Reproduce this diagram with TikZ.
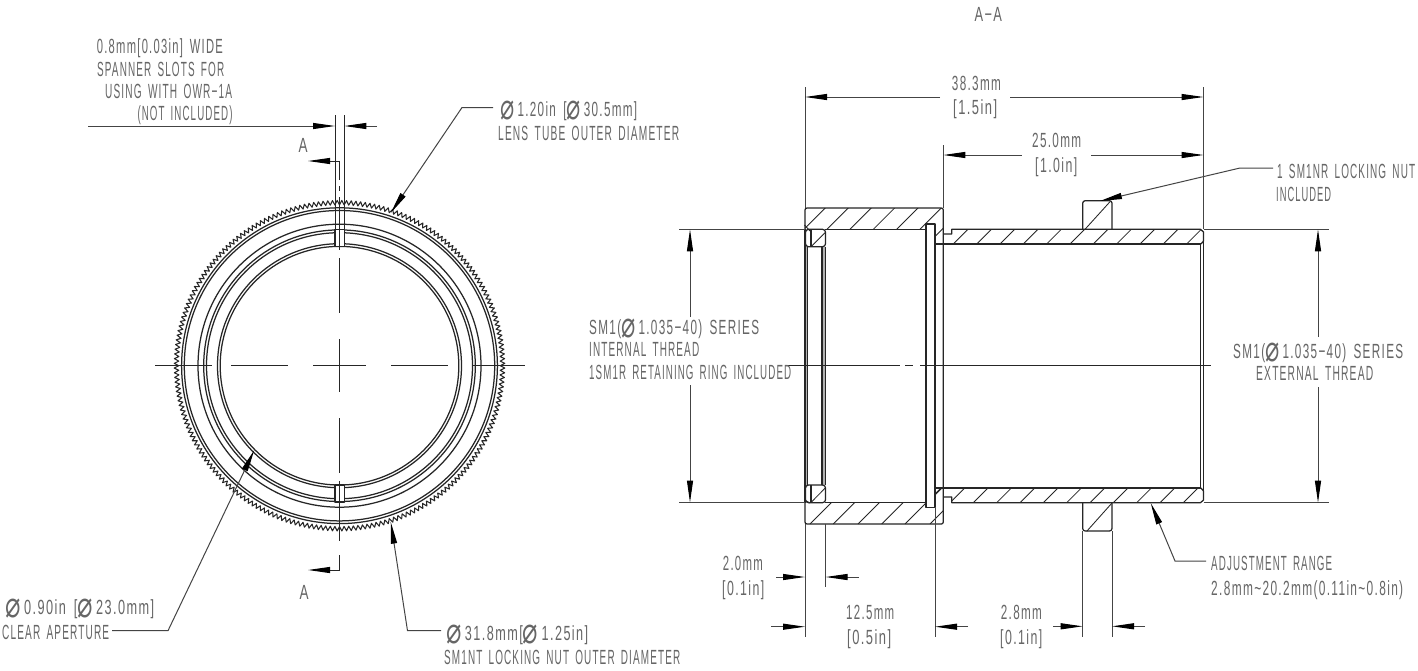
\documentclass[tikz,border=0pt]{standalone}
\usepackage{fontspec}
\usepackage{graphicx}
\setmainfont[FakeStretch=0.62,LetterSpace=7,WordSpace=1.6]{Liberation Sans}
\newfontfamily\djv{DejaVu Sans}
\usetikzlibrary{arrows.meta}
\newcommand\tx[2]{\resizebox{#1pt}{\height}{#2}}
\newcommand\dia{\smash{\raisebox{-3.5pt}{\scalebox{1.35}[1.9]{\djv\fontsize{19}{19}\selectfont ⌀}}}\,}
\definecolor{ink}{HTML}{262626}
\definecolor{dimc}{HTML}{444444}
\definecolor{txtc}{HTML}{666666}
\tikzset{
  obj/.style={draw=ink,line width=1.25pt,line join=round},
  hair/.style={draw=ink,line width=.95pt},
  hatchl/.style={draw=ink,line width=.85pt},
  dimline/.style={draw=dimc,line width=1pt},
  tip/.style={-{Triangle[length=22pt,width=6pt,fill=black,color=black]}},
  lbl/.style={anchor=base west,inner sep=0pt,text=txtc,font=\fontsize{20.5}{20.5}\selectfont},
  lblc/.style={anchor=base,inner sep=0pt,text=txtc,font=\fontsize{20.5}{20.5}\selectfont},
}
\begin{document}
\begin{tikzpicture}[x=1pt,y=-1pt]
\useasboundingbox[fill=white] (0,0) rectangle (1418,670);
% ===== front view =====
\coordinate (C) at (339.5,365.7);
\begin{scope}[shift={(C)}]
  \draw[obj,line width=1.05pt] (0:160.8pt) \foreach \i in {0,...,219} { -- ({(\i+.5)*1.6363636}:165.3pt) -- ({(\i+1)*1.6363636}:160.8pt) } -- cycle;
  \foreach \r in {157.9,155.2,141.5,135.8,133,122,119.3}
    \draw[obj] (0,0) circle[radius=\r pt];
\end{scope}
% slots
\draw[obj,fill=white] (335,229.5) rectangle (344.3,246.5);
\draw[obj,fill=white] (335,485) rectangle (344.3,502);
% slot extension lines
\coordinate (ext1) at (335,115); \coordinate (ext2) at (344.3,115);
\coordinate (ext1b) at (335,229.5); \coordinate (ext2b) at (344.3,229.5);
\draw[hair] (ext1) -- (ext1b) (ext2) -- (ext2b);
% centre lines
\foreach \a/\b in {155/212,231/288,313/366,391/448,473/525}
  \draw[hair] (\a,365.7) -- (\b,365.7);
\foreach \a/\b in {161/180,186/191,197/250,258/313,339/392,418/473,481/541,555/570}
  \draw[hair] (339.5,\a) -- (339.5,\b);
% section marks
\coordinate (ctop) at (339.5,161); \coordinate (cbot) at (339.5,570);
\coordinate (atop) at (308,161); \coordinate (abot) at (308,570);
\draw[hair,tip] (ctop) -- (atop);
\draw[hair,tip] (cbot) -- (abot);
\node[lblc] (lA1) at (303,152.5) {\tx{9}{A}};
\node[lblc] (lA2) at (304,599.5) {\tx{9}{A}};
% slot width dimension
\coordinate (w0) at (88,126); \coordinate (w1) at (335,126); \coordinate (w2) at (344.3,126); \coordinate (w3) at (377,126);
\draw[dimline,tip] (w0) -- (w1);
\draw[dimline,tip] (w3) -- (w2);
\node[lbl] (t1) at (96.7,53) {\tx{126}{0.8mm[0.03in] WIDE}};
\node[lbl] (t2) at (97,76) {\tx{127}{SPANNER SLOTS FOR}};
\node[lbl] (t3) at (105,98) {\tx{127}{USING WITH OWR−1A}};
\node[lbl] (t4) at (137.3,120) {\tx{95}{(NOT INCLUDED)}};
% lens tube leader
\coordinate (l1a) at (493,107.5); \coordinate (l1b) at (462,107.5); \coordinate (l1c) at (390.7,213);
\draw[dimline,tip] (l1a) -- (l1b) -- (l1c);
\node[lbl] (t5) at (500,116) {\tx{137}{\dia 1.20in [\dia 30.5mm]}};
\node[lbl] (t6) at (498,140) {\tx{181}{LENS TUBE OUTER DIAMETER}};
% clear aperture leader
\coordinate (l2a) at (112,630.7); \coordinate (l2b) at (168,630.7); \coordinate (l2c) at (254.3,450);
\draw[dimline,tip] (l2a) -- (l2b) -- (l2c);
\node[lbl] (t7) at (5,614) {\tx{149}{\dia 0.90in [\dia 23.0mm]}};
\node[lbl] (t8) at (2,639.5) {\tx{107}{CLEAR APERTURE}};
% locking nut leader
\coordinate (l3a) at (441,630.7); \coordinate (l3b) at (407.5,630.7); \coordinate (l3c) at (390.7,521.7);
\draw[dimline,tip] (l3a) -- (l3b) -- (l3c);
\node[lbl] (t9) at (446,640) {\tx{142}{\dia 31.8mm[\dia 1.25in]}};
\node[lbl] (t10) at (444,664.5) {\tx{236}{SM1NT LOCKING NUT OUTER DIAMETER}};
% ===== section view =====
\node[lbl] (t11) at (974.3,21) {\tx{27.5}{A−A}};
% hatching, top body
\begin{scope}
  \clip (805,208) -- (943.3,208) -- (943.3,244) -- (935,244) -- (935,224) -- (926,224) -- (926,229.3) -- (805,229.3) -- cycle;
  \foreach \x in {804,827,850,873.3,896.7,920,943.3} \draw[hatchl] (\x,229.3) -- ++(40,-40);
  \draw[hatchl] (935,236.5) -- ++(10,-10);
\end{scope}
% hatching, bottom body
\begin{scope}
  \clip (805,502.7) -- (926,502.7) -- (926,507.5) -- (935,507.5) -- (935,488) -- (943.3,488) -- (943.3,524) -- (805,524) -- cycle;
  \foreach \x in {810,833.3,858,881.7,905,930} \draw[hatchl] (\x,524) -- ++(40,-40);
  \draw[hatchl] (935,495) -- ++(10,-10);
\end{scope}
% hatching, tube
\begin{scope}
  \clip (944,244) -- (944,234) -- (951.7,234) -- (951.7,229.3) -- (1200.5,229.3) -- (1203.5,232) -- (1203.5,241) -- (1201,244) -- cycle;
  \foreach \k in {0,...,10} \draw[hatchl] ({953.3+23.33*\k},244) -- ++(16,-16);
\end{scope}
\begin{scope}
  \clip (951.7,502.7) -- (951.7,497) -- (944,497) -- (944,488) -- (1201,488) -- (1203.5,491) -- (1203.5,500) -- (1200.5,502.7) -- cycle;
  \foreach \k in {0,...,10} \draw[hatchl] ({950+23.33*\k},502.7) -- ++(16,-16);
\end{scope}
% gray thread bands
\fill[black!30] (805,246.7) rectangle (808,485);
\fill[black!30] (822,246.7) rectangle (825.5,485);
% body outline
\draw[obj,rounded corners=2pt] (805,229.3) -- (805,208) -- (943.3,208) -- (943.3,524) -- (805,524) -- (805,502.7);
\draw[obj] (926,229.3) -- (926,224) -- (935,224) -- (935,507.5) -- (926,507.5) -- (926,229.3);
\draw[obj] (825,229.3) -- (926,229.3) (825,502.7) -- (926,502.7);
\draw[obj] (805,229.3) -- (805,502.7);
\foreach \x in {807.7,822,825.5} \draw[obj] (\x,246.7) -- (\x,485);
% retaining ring sections
\draw[obj,fill=white,rounded corners=3pt] (805.5,229.3) rectangle (825.5,246.7);
\draw[obj,fill=white,rounded corners=3pt] (805.5,485) rectangle (825.5,502.7);
\draw[obj] (811,229.3) -- (811,246.7) (811,485) -- (811,502.7);
\draw[hatchl] (811.7,246) -- (825,232.7) (811.7,501.7) -- (825,488.3);
\draw[hatchl] (804.5,225) -- (810,231) (804.5,500) -- (810,503);
% tube
\draw[obj] (935,244) -- (1201,244) (935,488) -- (1201,488);
\draw[obj] (943.3,234) -- (951.7,234) -- (951.7,229.3) -- (1200.5,229.3) -- (1203.5,232) -- (1203.5,241) -- (1201,244);
\draw[obj] (943.3,497) -- (951.7,497) -- (951.7,502.7) -- (1200.5,502.7) -- (1203.5,500) -- (1203.5,491) -- (1201,488);
\draw[obj] (1200.5,244) -- (1200.5,488);
\draw[obj] (1203.5,241) -- (1203.5,491);
% nut
\draw[obj,rounded corners=2.5pt] (1082.7,229.3) -- (1082.7,200.7) -- (1112,200.7) -- (1112,229.3);
\draw[obj,rounded corners=2.5pt] (1082.7,502.7) -- (1082.7,531) -- (1112,531) -- (1112,502.7);
\draw[hatchl] (1085,229.3) -- (1110,201.7) (1086.7,531.3) -- (1111.7,503.3);
% centre line
\foreach \a/\b in {787/900,905/913,920/1211} \draw[hair] (\a,365.7) -- (\b,365.7);
% extension lines
\coordinate (eL) at (805,87); \coordinate (eLb) at (805,208);
\coordinate (eR) at (1203.5,87); \coordinate (eRb) at (1203.5,229.3);
\coordinate (eM) at (943.3,145); \coordinate (eMb) at (943.3,208);
\draw[dimline] (eL) -- (eLb) (eR) -- (eRb) (eM) -- (eMb);
\coordinate (e1) at (805,524); \coordinate (e1b) at (805,636.5);
\coordinate (e2) at (825.5,524); \coordinate (e2b) at (825.5,587);
\coordinate (e3) at (935,507.5); \coordinate (e3b) at (935,636.5);
\coordinate (e4) at (1082.7,531); \coordinate (e4b) at (1082.7,636.5);
\coordinate (e5) at (1112,531); \coordinate (e5b) at (1112,636.5);
\draw[dimline] (e1) -- (e1b) (e2) -- (e2b) (e3) -- (e3b) (e4) -- (e4b) (e5) -- (e5b);
\coordinate (h1) at (679,229.3); \coordinate (h1b) at (805,229.3);
\coordinate (h2) at (679,502.5); \coordinate (h2b) at (805,502.5);
\coordinate (h3) at (1203.5,229.3); \coordinate (h3b) at (1329,229.3);
\coordinate (h4) at (1203.5,502.7); \coordinate (h4b) at (1329,502.7);
\draw[dimline] (h1) -- (h1b) (h2) -- (h2b) (h3) -- (h3b) (h4) -- (h4b);
% overall length
\coordinate (d1a) at (805,97); \coordinate (d1b) at (940,97); \coordinate (d1c) at (1010,97); \coordinate (d1d) at (1203.5,97);
\draw[dimline,tip] (d1b) -- (d1a);
\draw[dimline,tip] (d1c) -- (d1d);
\node[lbl] (t12) at (951.7,90) {\tx{49}{38.3mm}};
\node[lbl] (t13) at (953,114) {\tx{44}{[1.5in]}};
\coordinate (d2a) at (943.3,155); \coordinate (d2b) at (1021.7,155); \coordinate (d2c) at (1091,155); \coordinate (d2d) at (1203.5,155);
\draw[dimline,tip] (d2b) -- (d2a);
\draw[dimline,tip] (d2c) -- (d2d);
\node[lbl] (t14) at (1032,147.7) {\tx{49}{25.0mm}};
\node[lbl] (t15) at (1035,172.7) {\tx{42}{[1.0in]}};
% left vertical dim
\coordinate (v1a) at (690,229.3); \coordinate (v1b) at (690,317); \coordinate (v1c) at (690,385); \coordinate (v1d) at (690,502.5);
\draw[dimline,tip] (v1b) -- (v1a);
\draw[dimline,tip] (v1c) -- (v1d);
\node[lbl] (t16) at (589,334) {\tx{170}{SM1(\dia 1.035−40) SERIES}};
\node[lbl] (t17) at (589,356.7) {\tx{110}{INTERNAL THREAD}};
\node[lbl] (t18) at (589,379) {\tx{202}{1SM1R RETAINING RING INCLUDED}};
% right vertical dim
\coordinate (v2a) at (1318,229.3); \coordinate (v2b) at (1318,337); \coordinate (v2c) at (1318,387); \coordinate (v2d) at (1318,502.7);
\draw[dimline,tip] (v2b) -- (v2a);
\draw[dimline,tip] (v2c) -- (v2d);
\node[lbl] (t19) at (1233,358.3) {\tx{170}{SM1(\dia 1.035−40) SERIES}};
\node[lbl] (t20) at (1256,380) {\tx{117}{EXTERNAL THREAD}};
% nut leader
\coordinate (n1) at (1273,168); \coordinate (n2) at (1240,168); \coordinate (n3) at (1100,201);
\draw[dimline,tip] (n1) -- (n2) -- (n3);
\node[lbl] (t21) at (1277,178) {\tx{138}{1 SM1NR LOCKING NUT}};
\node[lbl] (t22) at (1276,201.6) {\tx{55}{INCLUDED}};
% adjustment leader
\coordinate (m1) at (1206,561); \coordinate (m2) at (1175,561); \coordinate (m3) at (1150.7,503);
\draw[dimline,tip] (m1) -- (m2) -- (m3);
\node[lbl] (t23) at (1211,570) {\tx{121}{ADJUSTMENT RANGE}};
\node[lbl] (t24) at (1211,595) {\tx{192}{2.8mm\textasciitilde 20.2mm(0.11in\textasciitilde 0.8in)}};
% bottom dims
\coordinate (b1a) at (776,577); \coordinate (b1b) at (805,577); \coordinate (b1c) at (858.7,577); \coordinate (b1d) at (825.5,577);
\draw[dimline,tip] (b1a) -- (b1b);
\draw[dimline,tip] (b1c) -- (b1d);
\node[lbl] (t25) at (722.7,570) {\tx{40}{2.0mm}};
\node[lbl] (t26) at (722,595) {\tx{42}{[0.1in]}};
\coordinate (b2a) at (771,626.7); \coordinate (b2b) at (805,626.7); \coordinate (b2c) at (968,626.7); \coordinate (b2d) at (935,626.7);
\draw[dimline,tip] (b2a) -- (b2b);
\draw[dimline,tip] (b2c) -- (b2d);
\node[lbl] (t27) at (846,619) {\tx{48}{12.5mm}};
\node[lbl] (t28) at (847,644) {\tx{44}{[0.5in]}};
\coordinate (b3a) at (1053,626.3); \coordinate (b3b) at (1082.7,626.3); \coordinate (b3c) at (1145,626.3); \coordinate (b3d) at (1112,626.3);
\draw[dimline,tip] (b3a) -- (b3b);
\draw[dimline,tip] (b3c) -- (b3d);
\node[lbl] (t29) at (1000.7,619) {\tx{41}{2.8mm}};
\node[lbl] (t30) at (1000,644) {\tx{42}{[0.1in]}};
\end{tikzpicture}
\end{document}
